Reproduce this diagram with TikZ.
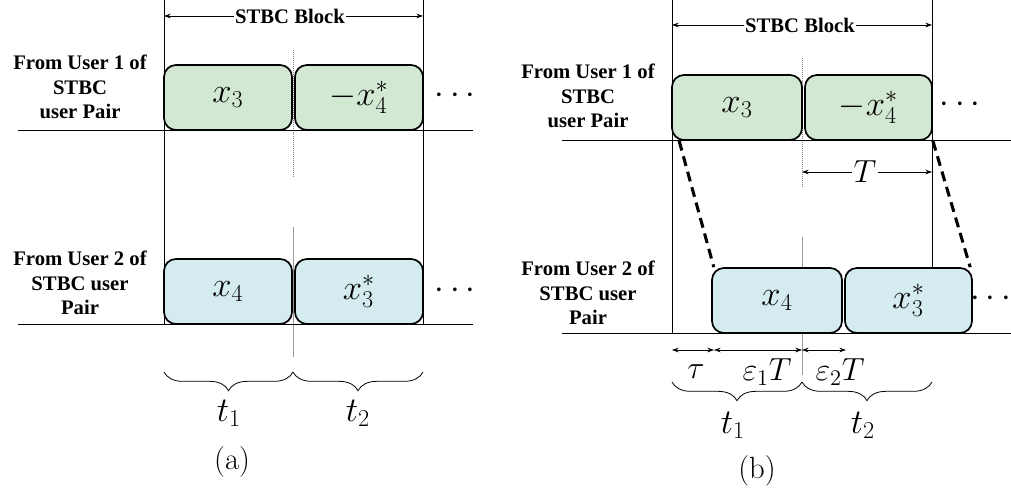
\RequirePackage{fix-cm}
\documentclass[tikz,border=0pt]{standalone}
\usepackage[no-math]{fontspec}
\setmainfont{Liberation Serif}
\usetikzlibrary{arrows.meta,decorations.pathreplacing}
\definecolor{boxgreen}{RGB}{210,232,210}
\definecolor{boxblue}{RGB}{212,236,240}
\begin{document}
\begin{tikzpicture}[x=0.75pt,y=-0.75pt,
  lbl/.style={font=\bfseries\fontsize{15.5}{18.4}\selectfont, align=center, inner sep=0pt},
  sym/.style={draw, line width=1.3pt, rounded corners=9pt, inner sep=0pt, minimum height=48.75pt, font=\fontsize{26}{30}\selectfont},
  gbox/.style={sym, fill=boxgreen},
  bbox/.style={sym, fill=boxblue},
  thin/.style={line width=0.7pt},
  midline/.style={line width=0.7pt, gray!80},
  middot/.style={line width=0.5pt, gray, densely dotted},
  dim/.style={line width=0.6pt, {Stealth[length=5pt,width=3.5pt]}-{Stealth[length=5pt,width=3.5pt]}},
  dimtxt/.style={font=\fontsize{24}{28}\selectfont, inner sep=1pt},
  big/.style={font=\fontsize{26}{30}\selectfont, inner sep=0pt},
  captxt/.style={font=\fontsize{23}{27}\selectfont, inner sep=0pt},
  ttl/.style={font=\bfseries\fontsize{15.5}{18}\selectfont, fill=white, inner sep=1pt},
  brc/.style={decorate, decoration={brace, mirror, amplitude=14pt}, line width=0.6pt},
  dsh/.style={line width=2.3pt, dash pattern=on 7.5pt off 4.5pt}
]
\useasboundingbox (0,0) rectangle (1011,496);

% ================= panel (a) =================
\coordinate (aL0) at (164,0);   \coordinate (aL1) at (164,324);
\coordinate (aR0) at (423,0);   \coordinate (aR1) at (423,324);
\coordinate (aM0) at (293,50);  \coordinate (aM1) at (293,178);
\coordinate (aM2) at (293,227); \coordinate (aM3) at (293,357);
\coordinate (aU0) at (18,130);  \coordinate (aU1) at (473,130);
\coordinate (aD0) at (18,324);  \coordinate (aD1) at (473,324);
\coordinate (aA0) at (164,16);  \coordinate (aA1) at (423,16);
\coordinate (aB0) at (164,372); \coordinate (aB1) at (293,372); \coordinate (aB2) at (423,372);

\draw[thin] (aL0) -- (aL1);
\draw[thin] (aR0) -- (aR1);
\draw[middot] (aM0) -- (aM1);
\draw[midline] (aM2) -- (aM3);
\draw[thin] (aU0) -- (aU1);
\draw[thin] (aD0) -- (aD1);
\draw[dim] (aA0) -- (aA1);
\node[ttl] (aT) at (290,16) {STBC Block};

\node[lbl] (aLab1) at (80,87) {From User 1 of\\STBC\\user Pair};
\node[lbl] (aLab2) at (80,283) {From User 2 of\\STBC user\\Pair};

\node[gbox, minimum width=96pt] (ag1) at (228,97.5) {$x_3$};
\node[gbox, minimum width=96pt] (ag2) at (359,97.5) {$-x_4^*$};
\node[bbox, minimum width=96pt] (ab1) at (228,291.5) {$x_4$};
\node[bbox, minimum width=96pt] (ab2) at (359,291.5) {$x_3^*$};
\node[big] (adots1) at (455,96) {$\cdots$};
\node[big] (adots2) at (455,291) {$\cdots$};

\draw[brc] (aB0) -- (aB1);
\draw[brc] (aB1) -- (aB2);
\node[big] (at1) at (229,413) {$t_1$};
\node[big] (at2) at (358,413) {$t_2$};
\node[captxt] (acap) at (232,462) {$(\mathrm{a})$};

% ================= panel (b) =================
\coordinate (bL0) at (672,0);   \coordinate (bL1) at (672,333);
\coordinate (bR0) at (932,0);   \coordinate (bR1) at (932,333);
\coordinate (bM0) at (802,58);  \coordinate (bM1) at (802,187);
\coordinate (bM2) at (802,237); \coordinate (bM3) at (802,375);
\coordinate (bU0) at (562,140); \coordinate (bU1) at (1011,140);
\coordinate (bD0) at (562,333); \coordinate (bD1) at (1011,333);
\coordinate (bA0) at (672,25);  \coordinate (bA1) at (932,25);
\coordinate (bT0) at (802,172); \coordinate (bT1) at (932,172);
\coordinate (bB0) at (672,382); \coordinate (bB1) at (802,382); \coordinate (bB2) at (932,382);
\coordinate (bd0) at (672,350); \coordinate (bd1) at (714,350); \coordinate (bd2) at (802,350); \coordinate (bd3) at (846,350);

\draw[thin] (bL0) -- (bL1);
\draw[thin] (bR0) -- (bR1);
\draw[middot] (bM0) -- (bM1);
\draw[midline] (bM2) -- (bM3);
\draw[thin] (bU0) -- (bU1);
\draw[thin] (bD0) -- (bD1);
\draw[dim] (bA0) -- (bA1);
\node[ttl] (bT) at (800,25) {STBC Block};
\draw[dim] (bT0) -- (bT1);
\node[dimtxt, fill=white] (bTT) at (865,172) {$T$};

\node[lbl] (bLab1) at (588,96) {From User 1 of\\STBC\\user Pair};
\node[lbl] (bLab2) at (588,293) {From User 2 of\\STBC user\\Pair};

\node[gbox, minimum width=97.5pt] (bg1) at (737,107.5) {$x_3$};
\node[gbox, minimum width=95.25pt] (bg2) at (868.5,107.5) {$-x_4^*$};
\node[bbox, minimum width=97.5pt] (bb1) at (777,300.5) {$x_4$};
\node[bbox, minimum width=95.25pt] (bb2) at (908.5,300.5) {$x_3^*$};
\node[big] (bdots1) at (960,105) {$\cdots$};
\node[big, anchor=west] (bdots2) at (970,299) {$\cdots$};

\draw[dsh] ([xshift=6pt]bg1.south west) -- ([xshift=2pt]bb1.north west);
\draw[dsh] (bg2.south east) -- ([xshift=-2pt]bb2.north east);

\draw[dim] (bd0) -- (bd1);
\draw[dim] (bd1) -- (bd2);
\draw[dim] (bd2) -- (bd3);
\node[dimtxt] (btau) at (696,372) {$\tau$};
\node[dimtxt] (be1) at (767,372) {$\varepsilon_1 T$};
\node[dimtxt] (be2) at (840,372) {$\varepsilon_2 T$};

\draw[brc] (bB0) -- (bB1);
\draw[brc] (bB1) -- (bB2);
\node[big] (bt1) at (733,425) {$t_1$};
\node[big] (bt2) at (863,425) {$t_2$};
\node[captxt] (bcap) at (757,471) {$(\mathrm{b})$};
\end{tikzpicture}
\end{document}
